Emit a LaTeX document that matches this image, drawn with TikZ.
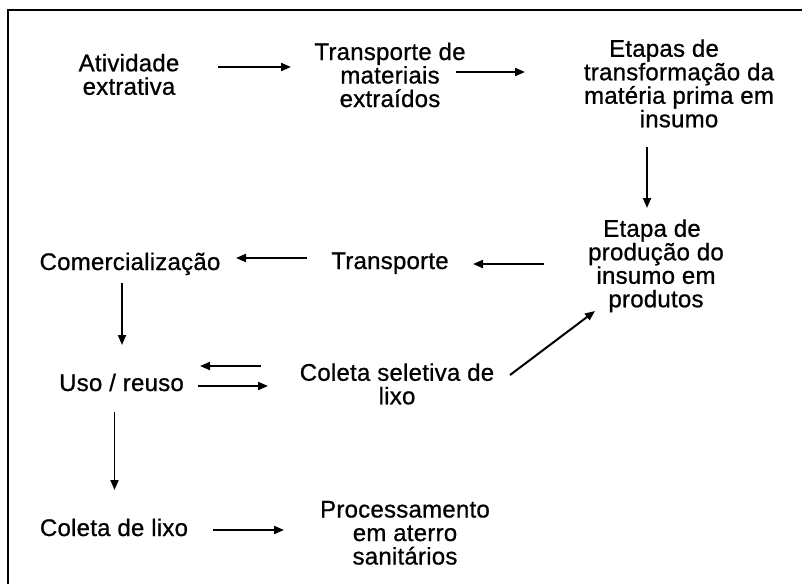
\documentclass[tikz,border=0pt]{standalone}
\usepackage{fontspec}
\setmainfont{Liberation Sans}[LetterSpace=1.0,FakeBold=0.8]
\usetikzlibrary{arrows.meta,calc}
\newcommand\ms{\rule[-5.5pt]{0pt}{23.5pt}}
\begin{document}
\begin{tikzpicture}[x=1pt,y=-1pt,
  lbl/.style={font=\fontsize{24}{23.5}\selectfont, align=center, inner sep=0pt, outer sep=0pt},
  arr/.style={line width=2pt, -{Triangle[length=10pt,width=8pt]}},
  varr/.style={arr, line width=1.9pt},
  frame/.style={line width=1.3pt}]
\useasboundingbox (0,0) rectangle (802,584);
\draw[frame] (8,584) -- (8,10) -- (802,10);
\node[lbl] (atv) at (129,76.75) {\ms Atividade\\\ms extrativa};
\node[lbl] (tr)  at (390,77.25) {\ms Transporte de\\\ms materiais\\\ms extraídos};
\node[lbl] (et)  at (679,85.75) {\ms Etapas de\hspace*{30pt}\\\ms transformação da\\\ms matéria prima em\\\ms insumo};
\node[lbl] (ep)  at (656,265.75) {\ms Etapa de\hspace*{8pt}\\\ms produção do\\\ms insumo em\\\ms produtos};
\node[lbl] (tp)  at (390,262.75) {\ms Transporte};
\node[lbl] (com) at (130,263.75) {\ms Comercialização};
\node[lbl] (uso) at (121.5,384.75) {\ms Uso / reuso};
\node[lbl] (cs)  at (397,386.25) {\ms Coleta seletiva de\\\ms lixo};
\node[lbl] (cl)  at (114,529.75) {\ms Coleta de lixo};
\node[lbl] (pr)  at (405,534.75) {\ms Processamento\\\ms em aterro\\\ms sanitários};
\draw[arr] ($(atv)+(89,-9.75)$) -- ($(tr)+(-99,-10.25)$);
\draw[arr] ($(tr)+(66,-5.25)$) -- ($(et)+(-154,-13.75)$);
\draw[varr] ($(et)+(-32,61.25)$) -- ($(ep)+(-9,-57.75)$);
\draw[arr] ($(ep)+(-112,-1.75)$) -- ($(tp)+(83,1.25)$);
\draw[arr] ($(tp)+(-83,-4.75)$) -- ($(com)+(106,-5.75)$);
\draw[varr] ($(com)+(-8,19.25)$) -- ($(uso)+(0.5,-39.75)$);
\draw[arr] ($(cs)+(-136,-20.25)$) -- ($(uso)+(78.5,-18.75)$);
\draw[arr] ($(uso)+(76.5,1.25)$) -- ($(cs)+(-129,-0.25)$);
\draw[arr] ($(cs)+(113,-11.25)$) -- ($(ep)+(-61,45.25)$);
\draw[varr] ($(uso)+(-7,27.25)$) -- ($(cl)+(0.5,-39.75)$);
\draw[arr] ($(cl)+(99,0.25)$) -- ($(pr)+(-121,-4.75)$);
\end{tikzpicture}
\end{document}
